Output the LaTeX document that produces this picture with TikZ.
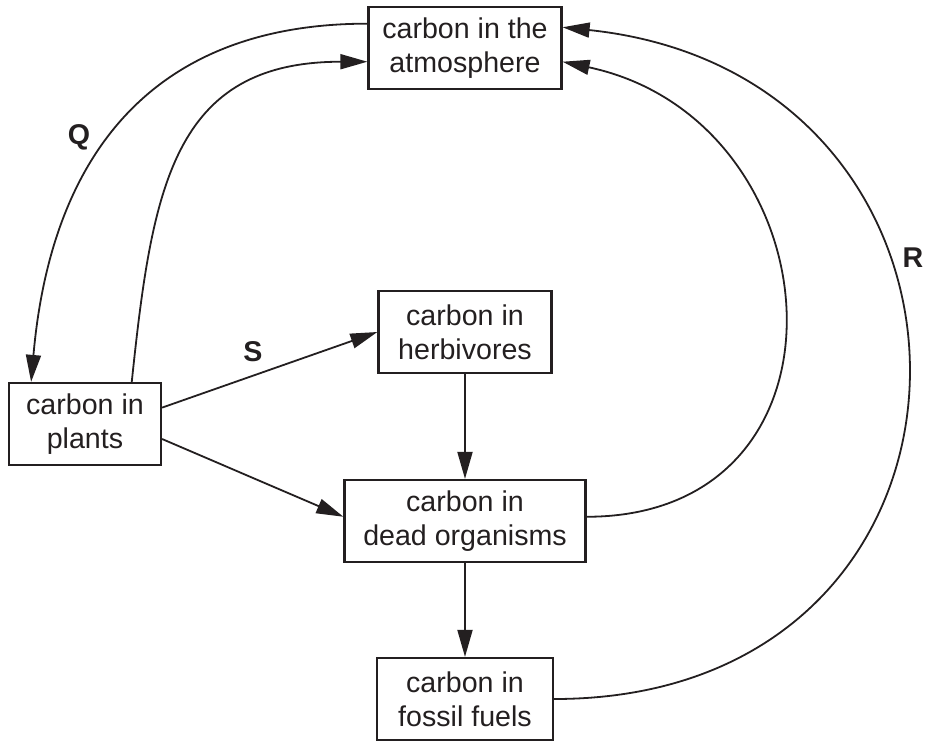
\documentclass[tikz,border=0pt]{standalone}
\usepackage{fontspec}
\setmainfont{Liberation Sans}
\usetikzlibrary{arrows.meta,positioning}
\definecolor{ink}{RGB}{35,31,32}
\tikzstyle{arrow}=[draw,ink,line width=0.9pt,-{Triangle[length=13.5pt,width=7.5pt]}]
\tikzstyle{box} =
  [rectangle, draw=ink, line width=1.1pt, text=ink, align=center,
   inner sep=0pt, minimum height=41pt, font=\fontsize{14.3}{17}\selectfont]
\tikzstyle{tag}=[text=ink, font=\fontsize{14.3}{17}\selectfont\bfseries]
\begin{document}
\begin{tikzpicture}[node distance = 142pt]
  \useasboundingbox (-232.5pt,24pt) rectangle (230pt,-346pt);
  \node [box, minimum width=96.5pt] (atm) {carbon in the\\atmosphere};
  \node [box, minimum width=86.5pt, below of=atm] (herb) {carbon in\\herbivores};
  \node [box, minimum width=120.5pt, below of=herb, node distance=94.5pt] (dead) {carbon in\\dead organisms};
  \node [box, minimum width=88pt, below of=dead, node distance=89pt] (fossil) {carbon in\\fossil fuels};
  \node [box, minimum width=76pt, left of=herb, node distance=190pt, yshift=-46pt] (plants) {carbon in\\plants};

  \node [tag, left of=atm, node distance=193pt, yshift=-44.5pt] (q) {Q};
  \node [tag, right of=atm, node distance=224pt, yshift=-105pt] (r) {R};
  \node [tag, left of=herb, node distance=106pt, yshift=-10pt] (s) {S};

  \draw [arrow] (atm.166) to [out=180, in=85, looseness=1.15] (plants.142);
  \draw [arrow] (plants.42) to [out=84, in=180, looseness=1.25] (atm.188);
  \draw [arrow] (plants.12) to (herb.west);
  \draw [arrow] (plants.-11) to (dead.178);
  \draw [arrow] (herb) to (dead);
  \draw [arrow] (dead) to (fossil);
  \draw [arrow] (dead.2) to [out=0, in=-12, looseness=1.58] (atm.-8);
  \draw [arrow] (fossil.east) to [out=0, in=-6, looseness=1.77] (atm.12);
\end{tikzpicture}
\end{document}
